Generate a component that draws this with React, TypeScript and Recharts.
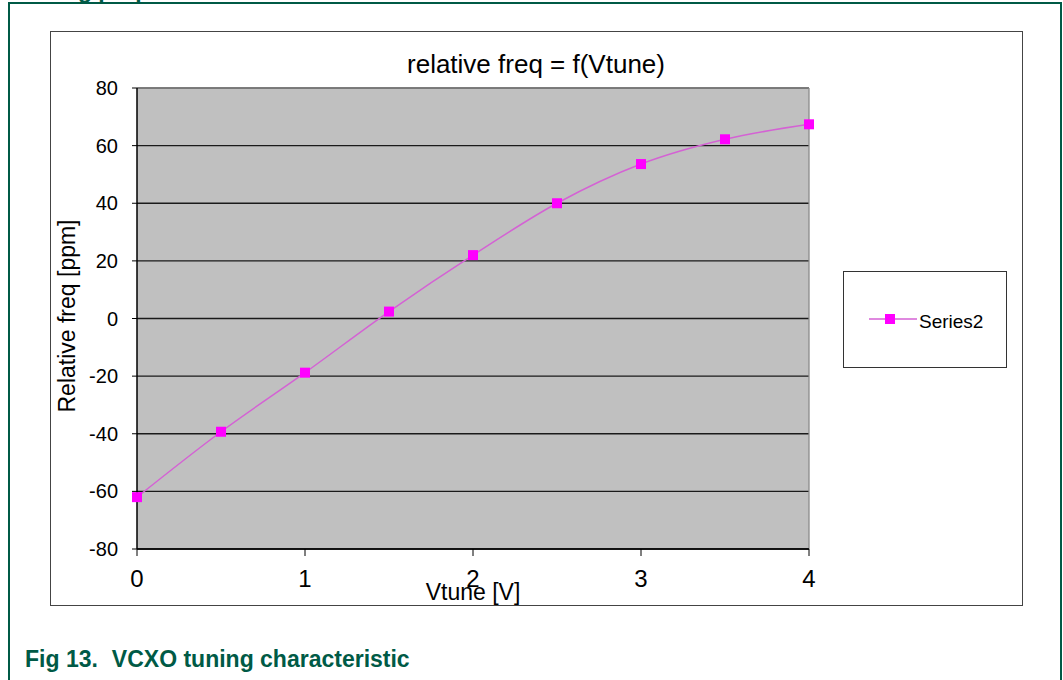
import { CartesianGrid, Line, LineChart, ReferenceLine, XAxis, YAxis } from "recharts";

const vtune = [0, 0.5, 1, 1.5, 2, 2.5, 3, 3.5, 4];
const relFreq = [-62, -39.3, -18.8, 2.4, 22, 40, 53.6, 62.2, 67.4];
const xTicks = [0, 1, 2, 3, 4];
const yTicks = [-80, -60, -40, -20, 0, 20, 40, 60, 80];

const data = vtune.map((v, i) => ({ vtune: v, freq: relFreq[i] }));

const FONT = '"Liberation Sans", Arial, sans-serif';
const GREEN = "#005a46";
const MARKER = "#ff00ff";
const LINE = "#d462d4";

function SquareDot(props: any) {
	const { cx, cy } = props;
	if (cx == null || cy == null) return null;
	return <rect x={cx - 5} y={cy - 5} width={10} height={10} fill={MARKER} />;
}

export default function App() {
	return (
		<div
			style={{
				position: "absolute",
				left: 0,
				top: 0,
				width: 1063,
				height: 680,
				overflow: "hidden",
				background: "#fff",
				fontFamily: FONT,
			}}
		>
			{/* heading cut off at top */}
			<div
				style={{
					position: "absolute",
					left: 17,
					top: -21,
					fontSize: 23,
					lineHeight: "23px",
					fontWeight: "bold",
					color: GREEN,
					whiteSpace: "nowrap",
				}}
			>
				Tuning properties
			</div>
			{/* green frame */}
			<div
				style={{
					position: "absolute",
					left: 8,
					top: 2,
					width: 1054,
					height: 720,
					border: `2px solid ${GREEN}`,
					boxSizing: "border-box",
				}}
			/>
			{/* chart box */}
			<div
				style={{
					position: "absolute",
					left: 50,
					top: 31,
					width: 973,
					height: 575,
					border: "1.5px solid #444",
					boxSizing: "border-box",
				}}
			/>
			<div
				style={{
					position: "absolute",
					left: 50,
					width: 972,
					top: 51,
					fontSize: 26,
					lineHeight: "26px",
					textAlign: "center",
					color: "#000",
				}}
			>
				relative freq = f(Vtune)
			</div>
			<LineChart
				width={1063}
				height={680}
				data={data}
				margin={{ top: 88, right: 254, bottom: 91, left: 67 }}
				style={{ position: "absolute", left: 0, top: 0 }}
			>
				<CartesianGrid
					vertical={false}
					fill="#c0c0c0"
					fillOpacity={1}
					stroke="#1a1a1a"
					strokeWidth={1.3}
					horizontalValues={yTicks}
				/>
				<ReferenceLine y={80} stroke="#8a8a8a" strokeWidth={1.3} />
				<ReferenceLine x={4} stroke="#8a8a8a" strokeWidth={1.3} />
				<XAxis
					dataKey="vtune"
					type="number"
					domain={[0, 4]}
					ticks={xTicks}
					height={40}
					tickSize={7}
					tickMargin={14}
					stroke="#000"
					axisLine={{ stroke: "#000", strokeWidth: 1.5 }}
					tickLine={{ stroke: "#000" }}
					tick={{ fill: "#000", fontSize: 24, fontFamily: FONT }}
				/>
				<YAxis
					type="number"
					domain={[-80, 80]}
					ticks={yTicks}
					width={70}
					tickSize={5}
					tickMargin={14}
					stroke="#000"
					axisLine={{ stroke: "#000", strokeWidth: 1.5 }}
					tickLine={{ stroke: "#000" }}
					tick={{ fill: "#000", fontSize: 20, fontFamily: FONT }}
				/>
				<Line
					type="monotone"
					dataKey="freq"
					name="Series2"
					stroke={LINE}
					strokeWidth={1.5}
					dot={<SquareDot />}
					activeDot={false}
					isAnimationActive={false}
				/>
			</LineChart>
			{/* axis titles */}
			<div
				style={{
					position: "absolute",
					left: 373,
					width: 200,
					top: 581,
					fontSize: 23,
					lineHeight: "23px",
					textAlign: "center",
					color: "#000",
				}}
			>
				Vtune [V]
			</div>
			<div
				style={{
					position: "absolute",
					left: 66.5,
					top: 316,
					fontSize: 23,
					lineHeight: "23px",
					whiteSpace: "nowrap",
					color: "#000",
					transform: "translate(-50%, -50%) rotate(-90deg)",
				}}
			>
				Relative freq [ppm]
			</div>
			{/* legend */}
			<div
				style={{
					position: "absolute",
					left: 843,
					top: 271,
					width: 164,
					height: 97,
					border: "1.5px solid #333",
					boxSizing: "border-box",
					background: "#fff",
				}}
			/>
			<svg
				width={60}
				height={20}
				style={{ position: "absolute", left: 865, top: 309 }}
			>
				<line x1={4} y1={10} x2={52} y2={10} stroke={LINE} strokeWidth={1.5} />
				<rect x={20} y={5} width={10} height={10} fill={MARKER} />
			</svg>
			<div
				style={{
					position: "absolute",
					left: 919,
					top: 312,
					fontSize: 19,
					lineHeight: "19px",
					color: "#000",
				}}
			>
				Series2
			</div>
			{/* caption */}
			<div
				style={{
					position: "absolute",
					left: 25,
					top: 648,
					fontSize: 23,
					lineHeight: "23px",
					fontWeight: "bold",
					color: GREEN,
					whiteSpace: "nowrap",
				}}
			>
				Fig 13.<span style={{ marginLeft: 14 }}>VCXO tuning characteristic</span>
			</div>
		</div>
	);
}
